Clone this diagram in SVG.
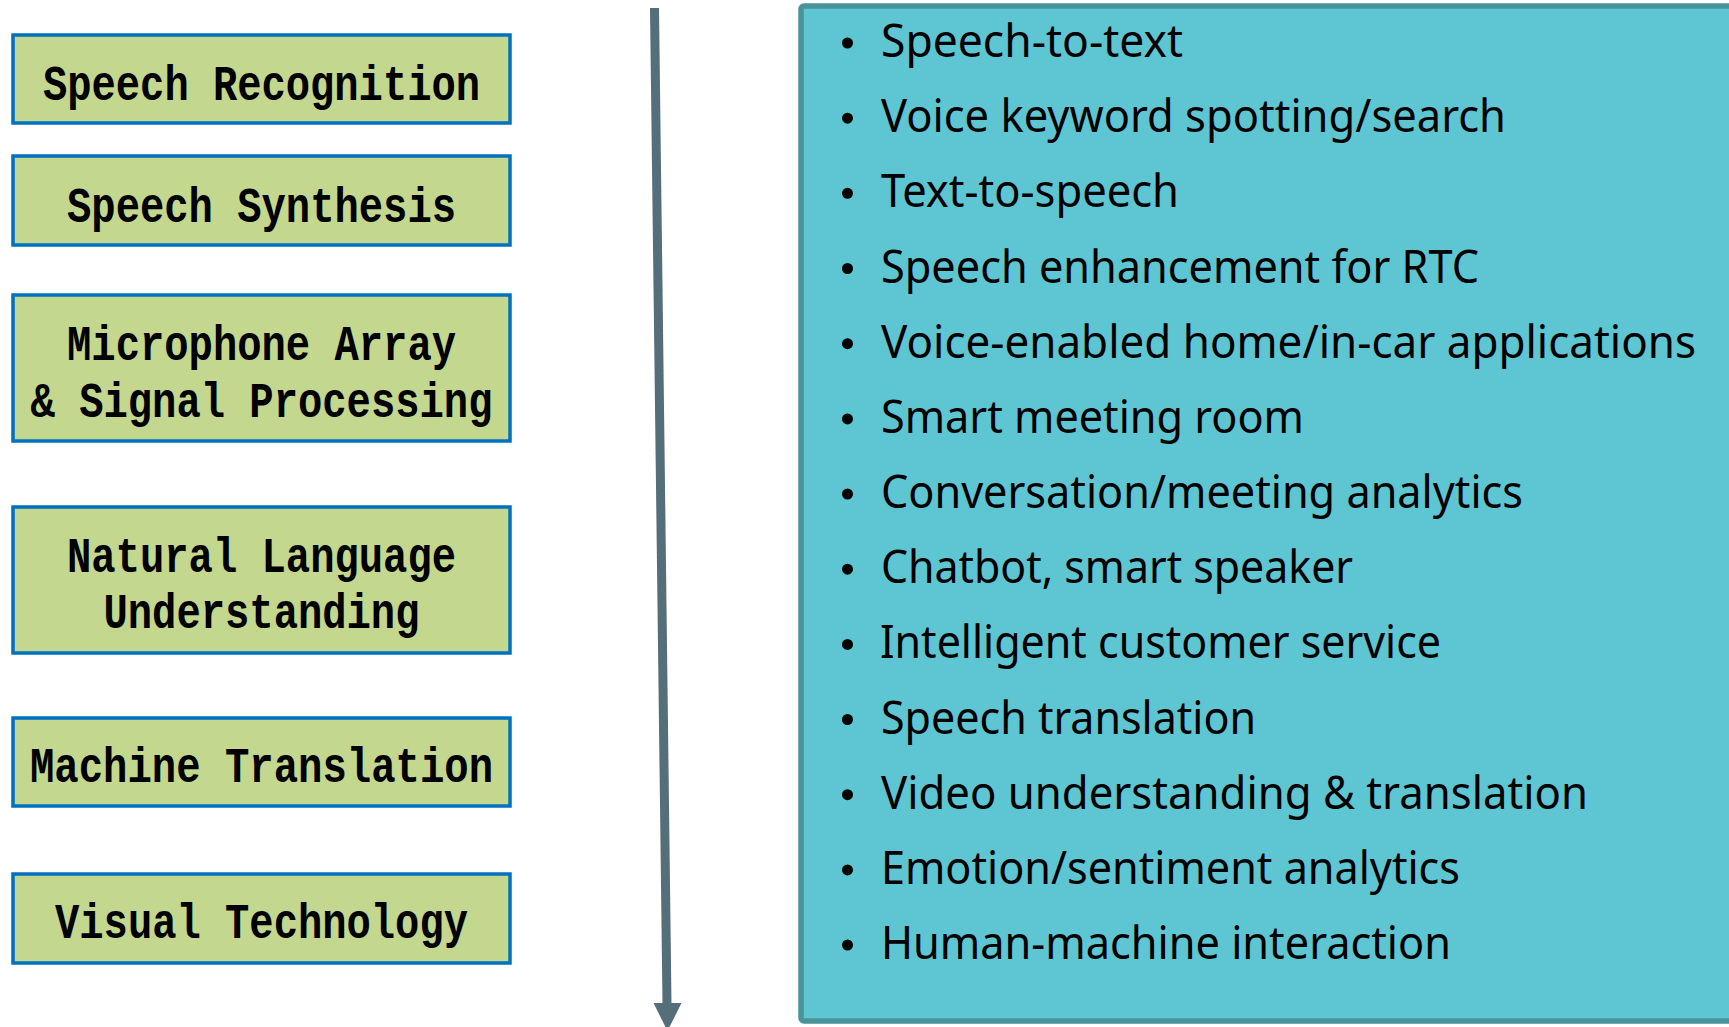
<svg xmlns="http://www.w3.org/2000/svg" width="1729" height="1027" viewBox="0 0 1729 1027">
<style>
.box rect{fill:#C4D78E;stroke:#0070C0;stroke-width:3.5}
.box text{font-family:"Liberation Mono",monospace;font-weight:bold;font-size:50px;fill:#000;text-anchor:middle}
.panel rect{fill:#5EC5D2;stroke:#4A939A;stroke-width:5.5}
.panel text{font-family:"Noto Sans","Open Sans",sans-serif;font-size:45px;fill:#000}
.panel circle{fill:#000}
</style>
<rect width="1729" height="1027" fill="#fff"/>
<g id="speech-recognition" class="box"><rect x="13" y="35" width="497" height="88"/><text x="261.5" y="100" textLength="437" lengthAdjust="spacingAndGlyphs">Speech Recognition</text></g>
<g id="speech-synthesis" class="box"><rect x="13" y="156" width="497" height="89"/><text x="261.5" y="222" textLength="389" lengthAdjust="spacingAndGlyphs">Speech Synthesis</text></g>
<g id="microphone-array" class="box"><rect x="13" y="295" width="497" height="146"/><text x="261.5" y="360" textLength="389" lengthAdjust="spacingAndGlyphs">Microphone Array</text><text x="261.5" y="417" textLength="462" lengthAdjust="spacingAndGlyphs">&amp; Signal Processing</text></g>
<g id="nlu" class="box"><rect x="13" y="507" width="497" height="146"/><text x="261.5" y="572" textLength="389" lengthAdjust="spacingAndGlyphs">Natural Language</text><text x="261.5" y="628" textLength="316" lengthAdjust="spacingAndGlyphs">Understanding</text></g>
<g id="machine-translation" class="box"><rect x="13" y="718" width="497" height="88"/><text x="261.5" y="782" textLength="463" lengthAdjust="spacingAndGlyphs">Machine Translation</text></g>
<g id="visual-technology" class="box"><rect x="13" y="874" width="497" height="89"/><text x="261.5" y="938" textLength="413" lengthAdjust="spacingAndGlyphs">Visual Technology</text></g>
<g id="connectors">
<line x1="654.5" y1="8" x2="667" y2="1004" stroke="#546E7A" stroke-width="9"/>
<polygon points="653.5,1003 681.5,1003 667.5,1031" fill="#546E7A"/>
</g>
<g id="applications" class="panel">
<rect x="801" y="6" width="940" height="1015" rx="3"/>
<circle cx="847.5" cy="43" r="5.5"/><text x="881" y="57" textLength="302" lengthAdjust="spacingAndGlyphs">Speech-to-text</text>
<circle cx="847.5" cy="118.2" r="5.5"/><text x="881" y="132.2" textLength="625" lengthAdjust="spacingAndGlyphs">Voice keyword spotting/search</text>
<circle cx="847.5" cy="193.3" r="5.5"/><text x="881" y="207.3" textLength="298" lengthAdjust="spacingAndGlyphs">Text-to-speech</text>
<circle cx="847.5" cy="268.5" r="5.5"/><text x="881" y="282.5" textLength="598" lengthAdjust="spacingAndGlyphs">Speech enhancement for RTC</text>
<circle cx="847.5" cy="343.7" r="5.5"/><text x="881" y="357.7" textLength="815" lengthAdjust="spacingAndGlyphs">Voice-enabled home/in-car applications</text>
<circle cx="847.5" cy="418.9" r="5.5"/><text x="881" y="432.9" textLength="423" lengthAdjust="spacingAndGlyphs">Smart meeting room</text>
<circle cx="847.5" cy="494" r="5.5"/><text x="881" y="508" textLength="642" lengthAdjust="spacingAndGlyphs">Conversation/meeting analytics</text>
<circle cx="847.5" cy="569.2" r="5.5"/><text x="881" y="583.2" textLength="472" lengthAdjust="spacingAndGlyphs">Chatbot, smart speaker</text>
<circle cx="847.5" cy="644.4" r="5.5"/><text x="880" y="658.4" textLength="561" lengthAdjust="spacingAndGlyphs">Intelligent customer service</text>
<circle cx="847.5" cy="719.5" r="5.5"/><text x="881" y="733.5" textLength="375" lengthAdjust="spacingAndGlyphs">Speech translation</text>
<circle cx="847.5" cy="794.7" r="5.5"/><text x="881" y="808.7" textLength="707" lengthAdjust="spacingAndGlyphs">Video understanding &amp; translation</text>
<circle cx="847.5" cy="869.9" r="5.5"/><text x="881" y="883.9" textLength="579" lengthAdjust="spacingAndGlyphs">Emotion/sentiment analytics</text>
<circle cx="847.5" cy="945" r="5.5"/><text x="881" y="959" textLength="570" lengthAdjust="spacingAndGlyphs">Human-machine interaction</text>
</g>
</svg>
